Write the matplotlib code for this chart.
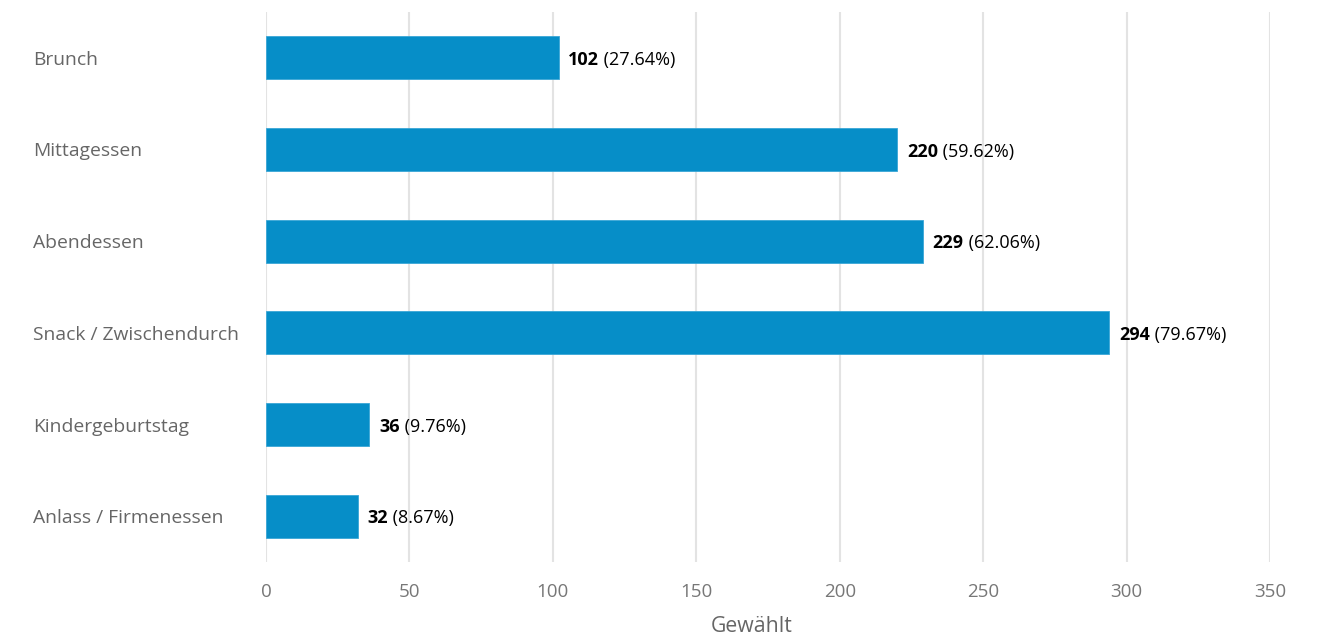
import matplotlib.pyplot as plt

plt.rcParams['font.family'] = ['Open Sans', 'DejaVu Sans']

# data
categories = ['Brunch', 'Mittagessen', 'Abendessen', 'Snack / Zwischendurch',
              'Kindergeburtstag', 'Anlass / Firmenessen']
counts = [102, 220, 229, 294, 36, 32]
percents = ['27.64%', '59.62%', '62.06%', '79.67%', '9.76%', '8.67%']
xticks = [0, 50, 100, 150, 200, 250, 300, 350]

fig = plt.figure(figsize=(13.23, 6.41), dpi=100)
ax = fig.add_axes([266 / 1323, 1 - 562 / 641, 1004 / 1323, 550 / 641])

ypos = list(range(len(categories)))
ax.barh(ypos, counts, height=0.47, color='#068ec8', edgecolor='#3aa6d6', linewidth=0.6, zorder=2)

for y, c, p in zip(ypos, counts, percents):
    t1 = ax.annotate(str(c), xy=(c, y), xytext=(7, -1.5), textcoords='offset points',
                     ha='left', va='center', fontsize=13, fontweight='bold', color='black')
    ax.annotate(' (' + p + ')', xy=(1, 0.5), xycoords=t1, ha='left', va='center',
                fontsize=13, color='black')

ax.set_xlim(0, 350)
ax.set_ylim(5.5, -0.5)
ax.set_xticks(xticks)
ax.set_xticklabels([str(v) for v in xticks], fontsize=13.5, color='#777777')
ax.set_yticks(ypos)
ax.set_yticklabels(categories, fontsize=13.9, color='#666666', ha='left')
ax.tick_params(axis='y', length=0, pad=168)
ax.tick_params(axis='x', length=0, pad=15)
ax.set_xlabel('Gewählt', fontsize=15.3, color='#666666', labelpad=11)
ax.xaxis.label.set_x(0.484)

ax.grid(axis='x', color='#e3e3e3', linewidth=1.5, zorder=0)
ax.set_axisbelow(True)
for s in ax.spines.values():
    s.set_visible(False)

fig.savefig('out.png', dpi=100)
